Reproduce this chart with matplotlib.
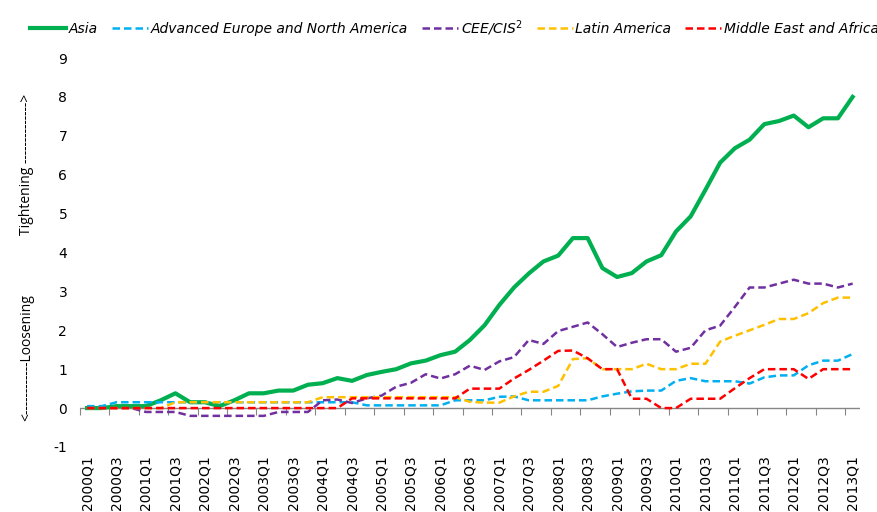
import matplotlib
matplotlib.use("Agg")
import matplotlib.pyplot as plt
import numpy as np

plt.rcParams["axes.unicode_minus"] = False

quarters = [f"{y}Q{q}" for y in range(2000, 2014) for q in range(1, 5)][:53]

asia = [0.0, 0.0, 0.05, 0.05, 0.05, 0.2, 0.38, 0.15, 0.15, 0.05,
        0.2, 0.38, 0.38, 0.45, 0.45, 0.6, 0.64, 0.77, 0.7, 0.85,
        0.93, 1.0, 1.15, 1.22, 1.36, 1.45, 1.75, 2.13, 2.65, 3.1,
        3.46, 3.77, 3.92, 4.37, 4.37, 3.6, 3.37, 3.47, 3.77, 3.93,
        4.54, 4.93, 5.61, 6.31, 6.68, 6.9, 7.3, 7.38, 7.52, 7.22,
        7.45, 7.45, 8.0]
adv_europe_na = [0.05, 0.05] + [0.15] * 17 + [0.07] * 6 + \
    [0.2, 0.2, 0.2, 0.29, 0.3, 0.2, 0.2, 0.2, 0.2, 0.2,
     0.3, 0.37, 0.43, 0.45, 0.45, 0.7, 0.77, 0.69, 0.69, 0.69,
     0.63, 0.79, 0.84, 0.84, 1.1, 1.22, 1.22, 1.39]
cee_cis = [0.0, 0.0, 0.0, 0.0, -0.1, -0.1, -0.1, -0.2, -0.2, -0.2,
           -0.2, -0.2, -0.2, -0.1, -0.1, -0.1, 0.2, 0.22, 0.13, 0.25,
           0.32, 0.55, 0.65, 0.87, 0.76, 0.87, 1.09, 0.98, 1.2, 1.31,
           1.75, 1.65, 1.98, 2.09, 2.2, 1.9, 1.57, 1.68, 1.77, 1.77,
           1.45, 1.55, 2.0, 2.12, 2.6, 3.1, 3.1, 3.2, 3.3, 3.2,
           3.2, 3.1, 3.2]
latin_america = [0.0] * 6 + [0.15] * 10 + [0.28] * 10 + \
    [0.16, 0.14, 0.14, 0.3, 0.42, 0.42, 0.57, 1.26, 1.28, 1.0,
     1.0, 1.0, 1.14, 1.0, 1.0, 1.14, 1.14, 1.71, 1.86, 2.0,
     2.14, 2.29, 2.29, 2.44, 2.7, 2.84, 2.84]
me_africa = [0.0] * 18 + [0.25] * 8 + [0.5] * 3 + \
    [0.76, 0.98, 1.22, 1.47, 1.48, 1.28, 1.0, 1.0, 0.24, 0.24,
     0.0, 0.0, 0.24, 0.24, 0.24, 0.51, 0.77, 1.0, 1.0, 1.0,
     0.75, 1.0, 1.0, 1.0]

series = [
    ("Asia", asia, "#00B050", "-", 3.0),
    ("Advanced Europe and North America", adv_europe_na, "#00B0F0", "--", 1.8),
    (r"CEE/CIS$^{\mathrm{2}}$", cee_cis, "#7030A0", "--", 1.8),
    ("Latin America", latin_america, "#FFC000", "--", 1.8),
    ("Middle East and Africa", me_africa, "#FF0000", "--", 1.8),
]

fig = plt.figure(figsize=(8.78, 5.12), dpi=100)
ax = fig.add_axes([0.0908, 0.127, 0.8887, 0.7597])

x = np.arange(len(quarters))
for name, vals, col, ls, lw in series:
    line, = ax.plot(x, vals, color=col, linestyle=ls, linewidth=lw, label=name)
    if ls == "--":
        line.set_dashes((3.0, 1.6))

ymin, ymax = -1, 9
ax.set_ylim(ymin, ymax)
ax.set_xlim(-0.5, len(quarters) - 0.5)
ax.set_yticks(range(-1, 10))
ax.tick_params(axis="y", length=0, pad=9, labelsize=10)

ax.set_xticks(x[::2])
ax.set_xticklabels(quarters[::2], rotation=90, fontsize=10)
ax.tick_params(axis="x", length=0, pad=6)

for s in ax.spines.values():
    s.set_visible(False)

# category axis crossing at zero with tick marks between categories
ax.axhline(0, color="#868686", linewidth=1.0, zorder=1)
sec = ax.secondary_xaxis((0 - ymin) / (ymax - ymin))
sec.spines["bottom"].set_visible(False)
sec.set_xticks(np.arange(-0.5, len(quarters), 2))
sec.tick_params(axis="x", direction="out", length=5, color="#868686",
                labelbottom=False)

ax.text(-0.068, 0.231, "<" + "-" * 12 + "Loosening", rotation=90,
        transform=ax.transAxes, ha="center", va="center", fontsize=10,
        family="Open Sans")
ax.text(-0.068, 0.727, "Tightening " + "-" * 14 + ">", rotation=90,
        transform=ax.transAxes, ha="center", va="center", fontsize=10,
        family="Open Sans")

leg = fig.legend(*ax.get_legend_handles_labels(), loc="center left",
                 bbox_to_anchor=(30 / 878, 1 - 28 / 512), ncol=5, frameon=False,
                 handlelength=2.6, handletextpad=0.2, columnspacing=1.0,
                 borderpad=0, borderaxespad=0,
                 prop={"style": "italic", "size": 10})

fig.savefig("out.png", dpi=100)
